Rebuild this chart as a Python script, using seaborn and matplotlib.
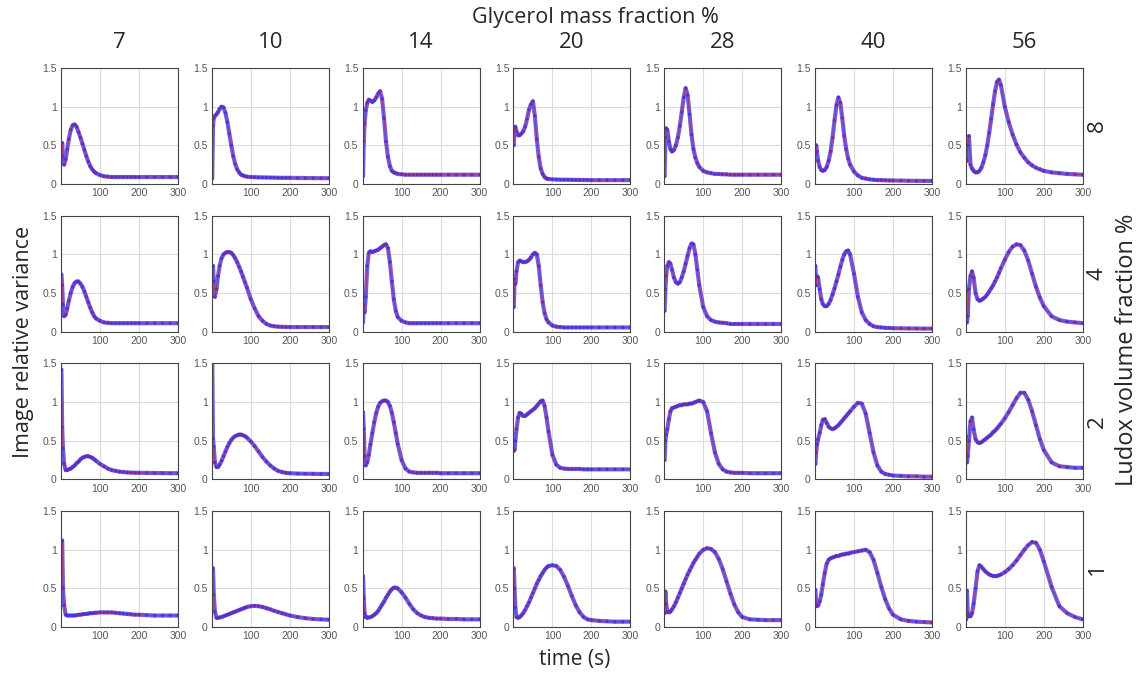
import matplotlib
matplotlib.use("Agg")
import matplotlib.pyplot as plt
import numpy as np
import pandas as pd
import seaborn as sns

# ---------------- data ----------------
glycerol = [7, 10, 14, 20, 28, 40, 56]
ludox = [8, 4, 2, 1]
T = [1, 3, 5, 8, 12, 16, 20, 25, 30, 35, 40, 45, 50, 55, 60, 65, 70, 75, 80, 85, 90,
     100, 110, 120, 130, 140, 150, 160, 170, 180, 190, 200, 220, 240, 260, 280, 300]

# Ludox 8 %
L8_G7 = [0.33, 0.53, 0.36, 0.25, 0.32, 0.45, 0.58, 0.70, 0.76, 0.77, 0.74, 0.67, 0.60, 0.52, 0.44, 0.36, 0.29, 0.23, 0.19, 0.16, 0.14,
         0.115, 0.10, 0.095, 0.09, 0.09, 0.09, 0.09, 0.09, 0.09, 0.09, 0.09, 0.09, 0.09, 0.09, 0.09, 0.09]
L8_G10 = [0.07, 0.75, 0.85, 0.88, 0.90, 0.93, 0.97, 1.00, 0.99, 0.92, 0.80, 0.65, 0.50, 0.36, 0.26, 0.19, 0.15, 0.12, 0.11, 0.10, 0.095,
          0.09, 0.088, 0.086, 0.085, 0.084, 0.083, 0.082, 0.081, 0.08, 0.08, 0.08, 0.078, 0.077, 0.076, 0.075, 0.075]
L8_G14 = [0.10, 0.55, 0.78, 0.95, 1.05, 1.09, 1.08, 1.06, 1.08, 1.12, 1.17, 1.20, 1.10, 0.85, 0.55, 0.35, 0.23, 0.17, 0.15, 0.14, 0.13,
          0.125, 0.12, 0.12, 0.12, 0.12, 0.12, 0.12, 0.12, 0.12, 0.12, 0.12, 0.12, 0.12, 0.12, 0.12, 0.12]
L8_G20 = [0.50, 0.72, 0.74, 0.68, 0.63, 0.63, 0.65, 0.68, 0.74, 0.84, 0.96, 1.03, 1.07, 0.88, 0.58, 0.35, 0.20, 0.13, 0.09, 0.07, 0.065,
          0.06, 0.058, 0.056, 0.055, 0.055, 0.054, 0.053, 0.052, 0.052, 0.051, 0.05, 0.05, 0.05, 0.05, 0.05, 0.05]
L8_G28 = [0.10, 0.60, 0.72, 0.70, 0.55, 0.45, 0.42, 0.44, 0.50, 0.60, 0.75, 0.93, 1.12, 1.24, 1.15, 0.90, 0.64, 0.45, 0.34, 0.27, 0.22,
          0.17, 0.15, 0.14, 0.13, 0.13, 0.125, 0.125, 0.12, 0.12, 0.12, 0.12, 0.12, 0.12, 0.12, 0.12, 0.12]
L8_G40 = [0.38, 0.50, 0.42, 0.30, 0.22, 0.18, 0.17, 0.18, 0.22, 0.30, 0.42, 0.60, 0.82, 1.02, 1.12, 1.05, 0.85, 0.62, 0.45, 0.33, 0.25,
          0.16, 0.11, 0.08, 0.07, 0.06, 0.055, 0.05, 0.05, 0.048, 0.046, 0.045, 0.044, 0.042, 0.041, 0.04, 0.04]
L8_G56 = [0.32, 0.30, 0.50, 0.62, 0.25, 0.20, 0.17, 0.15, 0.15, 0.17, 0.21, 0.28, 0.37, 0.50, 0.66, 0.84, 1.03, 1.20, 1.32, 1.35, 1.28,
          1.00, 0.80, 0.64, 0.51, 0.41, 0.34, 0.28, 0.24, 0.21, 0.19, 0.17, 0.15, 0.14, 0.13, 0.125, 0.12]

# Ludox 4 %
L4_G7 = [0.74, 0.60, 0.35, 0.20, 0.22, 0.30, 0.40, 0.50, 0.58, 0.63, 0.65, 0.65, 0.62, 0.58, 0.52, 0.45, 0.38, 0.31, 0.25, 0.20, 0.17,
         0.14, 0.12, 0.115, 0.11, 0.11, 0.11, 0.11, 0.11, 0.11, 0.11, 0.11, 0.11, 0.11, 0.11, 0.11, 0.11]
L4_G10 = [0.85, 0.85, 0.65, 0.45, 0.55, 0.72, 0.85, 0.95, 1.00, 1.02, 1.03, 1.03, 1.02, 0.99, 0.95, 0.90, 0.84, 0.78, 0.71, 0.64, 0.57,
          0.42, 0.30, 0.20, 0.14, 0.10, 0.08, 0.07, 0.065, 0.063, 0.062, 0.06, 0.06, 0.06, 0.06, 0.06, 0.06]
L4_G14 = [0.12, 0.35, 0.25, 0.45, 0.85, 1.02, 1.04, 1.03, 1.04, 1.05, 1.06, 1.08, 1.10, 1.12, 1.13, 1.08, 0.90, 0.65, 0.42, 0.27, 0.19,
          0.14, 0.12, 0.11, 0.11, 0.11, 0.11, 0.11, 0.11, 0.11, 0.11, 0.11, 0.11, 0.11, 0.11, 0.11, 0.11]
L4_G20 = [0.32, 0.68, 0.62, 0.78, 0.90, 0.92, 0.91, 0.90, 0.90, 0.91, 0.93, 0.96, 1.00, 1.02, 1.00, 0.85, 0.60, 0.38, 0.24, 0.16, 0.12,
          0.08, 0.065, 0.06, 0.055, 0.055, 0.055, 0.055, 0.055, 0.055, 0.055, 0.055, 0.055, 0.055, 0.055, 0.055, 0.055]
L4_G28 = [0.27, 0.55, 0.72, 0.85, 0.90, 0.88, 0.80, 0.70, 0.64, 0.62, 0.64, 0.70, 0.78, 0.88, 0.98, 1.08, 1.14, 1.13, 1.00, 0.80, 0.60,
          0.32, 0.20, 0.15, 0.13, 0.12, 0.115, 0.11, 0.10, 0.10, 0.10, 0.10, 0.10, 0.10, 0.10, 0.10, 0.10]
L4_G40 = [0.85, 0.60, 0.72, 0.70, 0.55, 0.42, 0.36, 0.33, 0.33, 0.36, 0.41, 0.48, 0.56, 0.65, 0.74, 0.84, 0.93, 1.00, 1.04, 1.05, 1.00,
          0.75, 0.45, 0.25, 0.15, 0.10, 0.07, 0.06, 0.055, 0.05, 0.048, 0.045, 0.044, 0.042, 0.041, 0.04, 0.04]
L4_G56 = [0.52, 0.12, 0.20, 0.55, 0.72, 0.78, 0.70, 0.50, 0.42, 0.40, 0.41, 0.43, 0.45, 0.48, 0.52, 0.56, 0.60, 0.65, 0.70, 0.76, 0.82,
          0.93, 1.03, 1.10, 1.13, 1.12, 1.05, 0.92, 0.75, 0.58, 0.44, 0.33, 0.20, 0.15, 0.13, 0.12, 0.11]

# Ludox 2 %
L2_G7 = [1.42, 0.67, 0.40, 0.20, 0.12, 0.12, 0.13, 0.14, 0.16, 0.18, 0.21, 0.23, 0.26, 0.28, 0.29, 0.30, 0.30, 0.29, 0.28, 0.26, 0.24,
         0.20, 0.17, 0.14, 0.12, 0.11, 0.10, 0.095, 0.09, 0.088, 0.086, 0.085, 0.084, 0.083, 0.082, 0.08, 0.08]
L2_G10 = [1.60, 0.53, 0.42, 0.22, 0.16, 0.16, 0.19, 0.24, 0.30, 0.36, 0.42, 0.47, 0.51, 0.54, 0.56, 0.57, 0.58, 0.58, 0.57, 0.56, 0.54,
          0.49, 0.43, 0.36, 0.29, 0.23, 0.18, 0.14, 0.11, 0.095, 0.085, 0.08, 0.075, 0.073, 0.072, 0.07, 0.07]
L2_G14 = [0.87, 0.65, 0.30, 0.18, 0.22, 0.32, 0.45, 0.60, 0.74, 0.86, 0.94, 0.99, 1.01, 1.02, 1.02, 1.00, 0.95, 0.86, 0.74, 0.60, 0.46,
          0.25, 0.14, 0.10, 0.09, 0.085, 0.085, 0.085, 0.085, 0.085, 0.085, 0.08, 0.08, 0.08, 0.08, 0.08, 0.08]
L2_G20 = [0.37, 0.38, 0.50, 0.65, 0.80, 0.86, 0.85, 0.82, 0.82, 0.84, 0.86, 0.88, 0.90, 0.92, 0.95, 0.98, 1.01, 1.02, 0.95, 0.80, 0.62,
          0.32, 0.19, 0.15, 0.14, 0.135, 0.135, 0.135, 0.135, 0.13, 0.13, 0.13, 0.13, 0.13, 0.13, 0.13, 0.13]
L2_G28 = [0.25, 0.50, 0.58, 0.65, 0.78, 0.88, 0.92, 0.93, 0.94, 0.95, 0.96, 0.96, 0.97, 0.97, 0.97, 0.98, 0.98, 0.99, 1.00, 1.01, 1.02,
          1.00, 0.88, 0.60, 0.35, 0.20, 0.13, 0.10, 0.09, 0.085, 0.085, 0.085, 0.08, 0.08, 0.08, 0.08, 0.08]
L2_G40 = [0.20, 0.35, 0.45, 0.52, 0.60, 0.70, 0.77, 0.78, 0.73, 0.68, 0.66, 0.65, 0.66, 0.68, 0.70, 0.73, 0.76, 0.79, 0.82, 0.85, 0.88,
          0.94, 0.99, 0.98, 0.85, 0.60, 0.35, 0.18, 0.10, 0.07, 0.06, 0.05, 0.045, 0.04, 0.04, 0.035, 0.035]
L2_G56 = [0.55, 0.22, 0.30, 0.50, 0.75, 0.80, 0.65, 0.52, 0.48, 0.47, 0.48, 0.50, 0.52, 0.54, 0.56, 0.58, 0.61, 0.63, 0.66, 0.69, 0.72,
          0.79, 0.87, 0.96, 1.05, 1.12, 1.12, 1.03, 0.88, 0.70, 0.52, 0.38, 0.22, 0.17, 0.16, 0.15, 0.15]

# Ludox 1 %
L1_G7 = [1.10, 1.12, 0.51, 0.28, 0.16, 0.15, 0.15, 0.15, 0.15, 0.15, 0.155, 0.16, 0.16, 0.165, 0.17, 0.17, 0.175, 0.18, 0.18, 0.185, 0.185,
         0.19, 0.19, 0.19, 0.19, 0.185, 0.18, 0.175, 0.17, 0.165, 0.16, 0.16, 0.155, 0.15, 0.15, 0.15, 0.15]
L1_G10 = [0.72, 0.76, 0.42, 0.20, 0.12, 0.12, 0.125, 0.13, 0.14, 0.15, 0.16, 0.17, 0.18, 0.19, 0.20, 0.21, 0.22, 0.23, 0.24, 0.25, 0.26,
          0.27, 0.275, 0.27, 0.26, 0.245, 0.23, 0.21, 0.195, 0.18, 0.165, 0.15, 0.13, 0.115, 0.105, 0.10, 0.095]
L1_G14 = [0.66, 0.37, 0.18, 0.13, 0.12, 0.125, 0.13, 0.14, 0.16, 0.18, 0.21, 0.25, 0.29, 0.33, 0.38, 0.42, 0.46, 0.49, 0.51, 0.51, 0.50,
          0.45, 0.38, 0.30, 0.23, 0.18, 0.15, 0.13, 0.12, 0.115, 0.11, 0.11, 0.105, 0.105, 0.10, 0.10, 0.10]
L1_G20 = [0.76, 0.50, 0.25, 0.13, 0.12, 0.13, 0.15, 0.18, 0.22, 0.27, 0.32, 0.38, 0.44, 0.50, 0.56, 0.61, 0.66, 0.70, 0.74, 0.77, 0.79,
          0.80, 0.79, 0.74, 0.65, 0.53, 0.40, 0.28, 0.19, 0.13, 0.10, 0.09, 0.08, 0.075, 0.07, 0.07, 0.07]
L1_G28 = [0.18, 0.46, 0.30, 0.20, 0.19, 0.20, 0.23, 0.27, 0.32, 0.38, 0.44, 0.50, 0.56, 0.62, 0.68, 0.73, 0.78, 0.83, 0.87, 0.91, 0.95,
          1.00, 1.02, 1.01, 0.97, 0.88, 0.75, 0.59, 0.43, 0.29, 0.19, 0.13, 0.10, 0.095, 0.09, 0.09, 0.09]
L1_G40 = [0.48, 0.30, 0.27, 0.28, 0.33, 0.42, 0.55, 0.70, 0.82, 0.87, 0.89, 0.90, 0.91, 0.92, 0.92, 0.93, 0.94, 0.94, 0.95, 0.95, 0.96,
          0.97, 0.98, 0.99, 1.00, 0.97, 0.87, 0.70, 0.52, 0.36, 0.24, 0.16, 0.10, 0.08, 0.07, 0.065, 0.06]
L1_G56 = [0.10, 0.47, 0.18, 0.14, 0.14, 0.18, 0.30, 0.50, 0.72, 0.80, 0.78, 0.75, 0.72, 0.70, 0.68, 0.67, 0.66, 0.66, 0.66, 0.67, 0.68,
          0.71, 0.75, 0.80, 0.86, 0.93, 1.00, 1.06, 1.10, 1.09, 1.00, 0.85, 0.52, 0.27, 0.18, 0.13, 0.10]

series = {
    8: [L8_G7, L8_G10, L8_G14, L8_G20, L8_G28, L8_G40, L8_G56],
    4: [L4_G7, L4_G10, L4_G14, L4_G20, L4_G28, L4_G40, L4_G56],
    2: [L2_G7, L2_G10, L2_G14, L2_G20, L2_G28, L2_G40, L2_G56],
    1: [L1_G7, L1_G10, L1_G14, L1_G20, L1_G28, L1_G40, L1_G56],
}

rows = []
for lu in ludox:
    for g, vals in zip(glycerol, series[lu]):
        for t, v in zip(T, vals):
            rows.append((lu, g, t, v))
df = pd.DataFrame(rows, columns=["ludox", "glycerol", "t", "v"])

# ---------------- style ----------------
sns.set_style("white")
plt.rcParams["font.family"] = ["Liberation Sans", "DejaVu Sans"]

W, H = 1141, 677
fig = plt.figure(figsize=(W / 100, H / 100), dpi=100)

col_left = [61 + i * 150.8 for i in range(7)]
row_top = [68 + i * 147.7 for i in range(4)]
aw, ah = 117, 116

BLUE = "#2a22f5"
RED = "#cc1a1a"
BAND = "#4a36e2"

for r, lu in enumerate(ludox):
    for c, g in enumerate(glycerol):
        x0 = col_left[c]
        y0 = row_top[r]
        ax = fig.add_axes([x0 / W, 1 - (y0 + ah) / H, aw / W, ah / H])
        sub = df[(df.ludox == lu) & (df.glycerol == g)]
        sns.lineplot(data=sub, x="t", y="v", ax=ax, color=BAND, lw=3.0, alpha=0.8)
        sns.lineplot(data=sub, x="t", y="v", ax=ax, color=RED, lw=0.7, alpha=0.55)
        sns.scatterplot(data=sub, x="t", y="v", ax=ax, color=BLUE, s=6, edgecolor="none", alpha=0.9)
        ax.set_xlim(0, 300)
        ax.set_ylim(0, 1.5)
        ax.set_xticks([0, 100, 200, 300])
        ax.set_xticklabels(["", "100", "200", "300"])
        ax.set_yticks([0, 0.5, 1, 1.5])
        ax.set_yticklabels(["0", "0.5", "1", "1.5"])
        ax.grid(True, color="#dcdcdc", lw=0.8)
        ax.set_axisbelow(True)
        ax.tick_params(axis="both", direction="in", length=2, width=0.6, colors="#444444",
                       labelsize=7.5, labelcolor="#555555", pad=3)
        for s in ax.spines.values():
            s.set_color("#444444")
            s.set_linewidth(0.8)
        ax.set_xlabel("")
        ax.set_ylabel("")
        if r == 0:
            fig.text((x0 + aw / 2) / W, 1 - 43 / H, str(g), ha="center", va="center",
                     fontsize=16, family="Open Sans")
        if c == 6:
            fig.text(1097 / W, 1 - (y0 + ah / 2) / H, str(lu), ha="center", va="center",
                     rotation=90, fontsize=16, family="Open Sans")

fig.text(595 / W, 1 - 18 / H, "Glycerol mass fraction %", ha="center", va="center",
         fontsize=15.5, family="Open Sans")
fig.text(575 / W, 1 - 659 / H, "time (s)", ha="center", va="center",
         fontsize=15, family="Open Sans")
fig.text(24 / W, 1 - 342 / H, "Image relative variance", ha="center", va="center",
         rotation=90, fontsize=15.5, family="Open Sans")
fig.text(1127 / W, 1 - 350 / H, "Ludox volume fraction %", ha="center", va="center",
         rotation=90, fontsize=17, family="Open Sans")

fig.savefig("out.png", dpi=100, facecolor="white")
